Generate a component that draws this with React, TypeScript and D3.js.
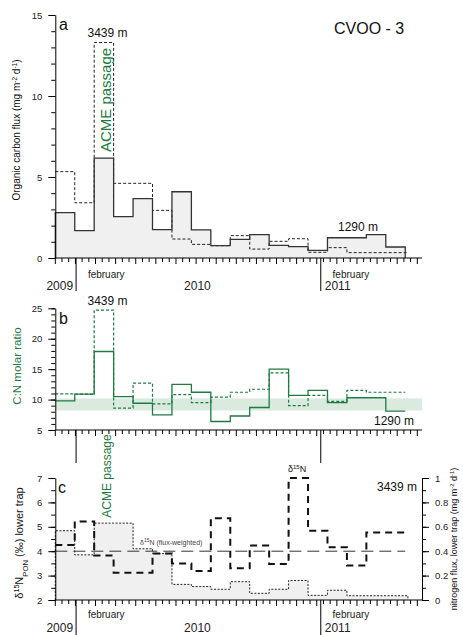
import React, { useEffect, useRef } from "react";
import * as d3 from "d3";

const width = 463;
const height = 635;
const font = "'Liberation Sans', Arial, Helvetica, sans-serif";
const green = "#1f7a44";
const fillGrey = "#f0f0f0";

// sediment trap cups (29-day collection periods)
const cupStarts = [
  "2009-12-01", "2009-12-30", "2010-01-28", "2010-02-26", "2010-03-27", "2010-04-25",
  "2010-05-24", "2010-06-22", "2010-07-21", "2010-08-19", "2010-09-17", "2010-10-16",
  "2010-11-14", "2010-12-13", "2011-01-11", "2011-02-09", "2011-03-10", "2011-04-08",
];
const cupEnd = "2011-05-07";
const lowerCupEnd = "2011-05-11";
const axisStart = "2009-12-01";
const axisEnd = "2011-06-01";
const yearMarks = ["2010-01-01", "2011-01-01"];

// a: organic carbon flux (mg m-2 d-1)
const ocUpper = [2.8, 1.69, 6.17, 2.55, 3.66, 1.75, 4.09, 1.73, 0.76, 1.15, 1.44, 0.78, 0.7, 0.47, 1.25, 1.25, 1.44, 0.68];
const ocLower = [5.33, 3.41, 13.3, 4.61, 4.61, 2.94, 1.17, 0.84, 0.76, 1.38, 0.55, 1.03, 1.19, 0.35, 0.64, 0.33, 0.33, 0.33];

// b: C:N molar ratio
const cnUpper = [9.8, 10.9, 17.9, 10.5, 9.4, 7.5, 12.5, 11.2, 6.4, 7.3, 8.7, 15.0, 10.7, 11.5, 9.5, 10.3, 10.3, 8.1];
const cnLower = [10.95, 10.9, 24.7, 8.6, 12.7, 9.3, 10.8, 9.5, 10.4, 11.2, 11.7, 14.4, 9.0, 10.7, 9.7, 11.5, 11.2, 11.2];
const cnBand = [8.2, 10.2];

// c: d15N of PON and nitrogen flux, lower trap
const d15N = [4.25, 5.22, 3.82, 3.12, 3.12, 3.91, 3.5, 3.19, 5.35, 3.3, 4.23, 3.48, 7.0, 4.84, 4.16, 3.41, 4.77, 4.77];
const nFlux = [0.568, 0.37, 0.63, 0.63, 0.42, 0.38, 0.128, 0.11, 0.088, 0.15, 0.055, 0.088, 0.16, 0.038, 0.08, 0.035, 0.035, 0.035];
const d15NWeighted = 4.0;

const parse = d3.utcParse("%Y-%m-%d");
const starts = cupStarts.map((s) => parse(s)!);

const x = d3.scaleUtc([parse(axisStart)!, parse(axisEnd)!], [55.3, 422]);
const ya = d3.scaleLinear([0, 15], [258, 15]);
const yb = d3.scaleLinear([5, 25], [430, 308.3]);
const yc = d3.scaleLinear([2, 7], [600, 478]);
const yn = d3.scaleLinear([0, 1], [600, 478]);

type Pt = [Date, number];

function steps(vals: number[], end: string, drop = false): Pt[] {
  const pts: Pt[] = vals.map((v, i) => [starts[i], v]);
  pts.push([parse(end)!, vals[vals.length - 1]]);
  if (drop) {
    pts.unshift([starts[0], 0]);
    pts.push([parse(end)!, 0]);
  }
  return pts;
}

function stepLine(y: d3.ScaleLinear<number, number>) {
  return d3
    .line<Pt>()
    .curve(d3.curveStepAfter)
    .x((d) => x(d[0]))
    .y((d) => y(d[1]));
}

function yAxis(
  g: any,
  y: d3.ScaleLinear<number, number>,
  major: number[],
  minor: number[],
  fmt: (d: number) => string,
  right = false
) {
  const mk = right ? d3.axisRight : d3.axisLeft;
  g.append("g")
    .call(mk(y).tickValues(minor).tickSize(4).tickFormat(() => ""))
    .call((s: any) => s.select(".domain").remove());
  g.append("g")
    .call(mk(y).tickValues(major).tickSize(7).tickSizeOuter(0).tickPadding(6).tickFormat(fmt as any))
    .call((s: any) => s.selectAll("text").attr("font-size", 9.5).attr("font-family", font).attr("fill", "#222"));
}

function xAxis(svg: any, y0: number, lineLen: number) {
  const g = svg.append("g");
  g.append("line")
    .attr("x1", x.range()[0]).attr("x2", x.range()[1])
    .attr("y1", y0).attr("y2", y0)
    .attr("stroke", "#000");
  const ticks = d3.range(0, 548, 10).map((d) => d3.utcDay.offset(parse(axisStart)!, d));
  g.selectAll(".t")
    .data(ticks)
    .join("line")
    .attr("x1", (d: Date) => x(d)).attr("x2", (d: Date) => x(d))
    .attr("y1", y0).attr("y2", (_: Date, i: number) => y0 + (i % 3 === 0 ? 6 : 4))
    .attr("stroke", "#000");
  g.selectAll(".yr")
    .data(yearMarks.map((s) => parse(s)!))
    .join("line")
    .attr("x1", (d: Date) => x(d)).attr("x2", (d: Date) => x(d))
    .attr("y1", y0).attr("y2", y0 + lineLen)
    .attr("stroke", "#000");
}

function timeLabels(svg: any, yMonth: number, yYear: number) {
  const g = svg.append("g").attr("font-family", font).attr("fill", "#222");
  ["2010-02-15", "2011-02-15"].forEach((d) =>
    g.append("text").attr("x", x(parse(d)!)).attr("y", yMonth)
      .attr("text-anchor", "middle").attr("font-size", 10).text("february"));
  g.append("text").attr("x", x(parse(yearMarks[0])!) - 3).attr("y", yYear)
    .attr("text-anchor", "end").attr("font-size", 12).text("2009");
  g.append("text").attr("x", x(parse("2010-07-01")!)).attr("y", yYear)
    .attr("text-anchor", "middle").attr("font-size", 12).text("2010");
  g.append("text").attr("x", x(parse(yearMarks[1])!) + 4).attr("y", yYear)
    .attr("font-size", 12).text("2011");
}

function label(svg: any, txt: string, px: number, py: number, size: number, color = "#111") {
  svg.append("text").attr("x", px).attr("y", py).attr("font-size", size)
    .attr("font-family", font).attr("fill", color).text(txt);
}

function vLabel(svg: any, px: number, py: number, size: number, color: string, parts: [string, string?][]) {
  const t = svg.append("text")
    .attr("transform", `translate(${px},${py}) rotate(-90)`)
    .attr("text-anchor", "middle").attr("font-size", size)
    .attr("font-family", font).attr("fill", color);
  parts.forEach(([s, kind]) => {
    const sp = t.append("tspan").text(s);
    if (kind === "sup") sp.attr("baseline-shift", "super").attr("font-size", size * 0.65);
    if (kind === "sub") sp.attr("baseline-shift", "sub").attr("font-size", size * 0.7);
  });
}

export default function App() {
  const ref = useRef<SVGSVGElement>(null);

  useEffect(() => {
    const svg = d3.select(ref.current);
    svg.selectAll("*").remove();

    // ---------- panel a ----------
    const upperA = steps(ocUpper, cupEnd);
    svg.append("path")
      .attr("d", d3.area<Pt>().curve(d3.curveStepAfter).x((d) => x(d[0])).y0(ya(0)).y1((d) => ya(d[1]))(upperA))
      .attr("fill", fillGrey);
    svg.append("path")
      .attr("d", stepLine(ya)(steps(ocLower, lowerCupEnd)))
      .attr("fill", "none").attr("stroke", "#222").attr("stroke-width", 1).attr("stroke-dasharray", "3,2");
    svg.append("path")
      .attr("d", stepLine(ya)(steps(ocUpper, cupEnd, true)))
      .attr("fill", "none").attr("stroke", "#333").attr("stroke-width", 1.3);
    const ga = svg.append("g").attr("transform", `translate(${x.range()[0]},0)`);
    yAxis(ga, ya, [0, 5, 10, 15], d3.range(0, 16), d3.format("d"));
    xAxis(svg, ya(0), 33);
    timeLabels(svg, 278, 290);
    label(svg, "a", 59, 30, 16);
    label(svg, "3439 m", 87.5, 37, 12);
    label(svg, "CVOO - 3", 334, 34, 16);
    label(svg, "1290 m", 338, 231, 12);
    vLabel(svg, 110.5, 100, 15, green, [["ACME passage"]]);
    vLabel(svg, 19.5, 130, 10, "#111", [
      ["Organic carbon flux (mg m"], ["-2", "sup"], [" d"], ["-1", "sup"], [")"],
    ]);

    // ---------- panel b ----------
    svg.append("rect")
      .attr("x", x.range()[0]).attr("width", x.range()[1] - x.range()[0])
      .attr("y", yb(cnBand[1])).attr("height", yb(cnBand[0]) - yb(cnBand[1]))
      .attr("fill", "#dbeadf");
    svg.append("path")
      .attr("d", stepLine(yb)(steps(cnLower, cupEnd)))
      .attr("fill", "none").attr("stroke", green).attr("stroke-width", 1.2).attr("stroke-dasharray", "3,2");
    svg.append("path")
      .attr("d", stepLine(yb)(steps(cnUpper, cupEnd)))
      .attr("fill", "none").attr("stroke", green).attr("stroke-width", 1.3);
    const gb = svg.append("g").attr("transform", `translate(${x.range()[0]},0)`);
    yAxis(gb, yb, [5, 10, 15, 20, 25], d3.range(5, 26), d3.format("d"));
    xAxis(svg, yb(5), 33);
    label(svg, "b", 59, 324, 16);
    label(svg, "3439 m", 87.5, 305, 12);
    label(svg, "1290 m", 374, 425, 12);
    vLabel(svg, 21, 366, 11.5, green, [["C:N molar ratio"]]);

    // ---------- panel c ----------
    const nPts = steps(nFlux, lowerCupEnd);
    svg.append("path")
      .attr("d", d3.area<Pt>().curve(d3.curveStepAfter).x((d) => x(d[0])).y0(yn(0)).y1((d) => yn(d[1]))(nPts))
      .attr("fill", fillGrey);
    svg.append("path")
      .attr("d", stepLine(yn)(steps(nFlux, lowerCupEnd, true)))
      .attr("fill", "none").attr("stroke", "#222").attr("stroke-width", 1).attr("stroke-dasharray", "2,1.5");
    svg.append("line")
      .attr("x1", x.range()[0]).attr("x2", x(parse(cupEnd)!))
      .attr("y1", yc(d15NWeighted)).attr("y2", yc(d15NWeighted))
      .attr("stroke", "#333").attr("stroke-width", 1).attr("stroke-dasharray", "12,6");
    svg.append("path")
      .attr("d", stepLine(yc)(steps(d15N, cupEnd)))
      .attr("fill", "none").attr("stroke", "#111").attr("stroke-width", 2).attr("stroke-dasharray", "7,5");
    const gc = svg.append("g").attr("transform", `translate(${x.range()[0]},0)`);
    yAxis(gc, yc, d3.range(2, 8), d3.range(2, 7.01, 0.5), d3.format("d"));
    const gr = svg.append("g").attr("transform", `translate(${x.range()[1]},0)`);
    yAxis(gr, yn, [0, 0.2, 0.4, 0.6, 0.8, 1], d3.range(0, 1.01, 0.1), d3.format("~g"), true);
    xAxis(svg, yc(2), 35);
    timeLabels(svg, 618, 632);
    label(svg, "c", 58, 493, 16);
    label(svg, "3439 m", 377, 491, 12);
    vLabel(svg, 111, 476, 12, green, [["ACME passage"]]);

    const dl = svg.append("text").attr("x", 288).attr("y", 472).attr("font-size", 9)
      .attr("font-family", font).attr("fill", "#111");
    dl.append("tspan").text("δ");
    dl.append("tspan").text("15").attr("font-size", 6).attr("baseline-shift", "super");
    dl.append("tspan").text("N");

    const fw = svg.append("text").attr("x", 140).attr("y", 545).attr("font-size", 7)
      .attr("font-family", font).attr("fill", "#444");
    fw.append("tspan").text("δ");
    fw.append("tspan").text("15").attr("font-size", 5).attr("baseline-shift", "super");
    fw.append("tspan").text("N (flux-weighted)");

    vLabel(svg, 23, 543, 11, "#111", [
      ["δ"], ["15", "sup"], ["N"], ["PON", "sub"], [" (‰) lower trap"],
    ]);
    vLabel(svg, 456.5, 539, 9, "#111", [
      ["nitrogen flux, lower trap (mg m"], ["-2", "sup"], [" d"], ["-1", "sup"], [")"],
    ]);
  }, []);

  return (
    <svg
      ref={ref}
      width={width}
      height={height}
      style={{ position: "absolute", left: 0, top: 0, background: "#fff" }}
    />
  );
}
